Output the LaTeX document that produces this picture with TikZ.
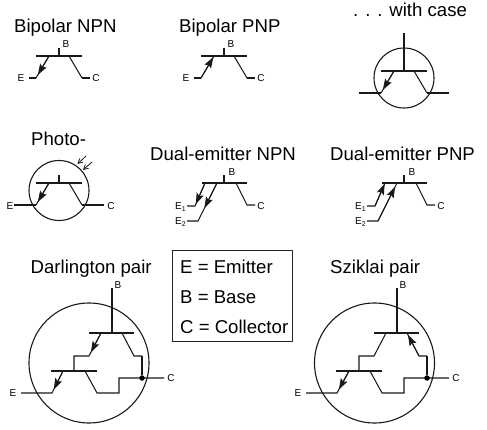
\documentclass[tikz,border=0pt]{standalone}
\usepackage{fontspec}
\setmainfont{Liberation Sans}
\usetikzlibrary{arrows.meta,calc}
\tikzset{
  wire/.style={line width=1.05pt,line cap=butt,line join=miter,black!90},
  solidtip/.style={wire,-{Stealth[length=11pt,width=7.5pt,inset=2pt]}},
  lightwire/.style={line width=0.8pt,black!90,-{Straight Barb[length=4.5pt,width=5pt]}},
  case/.style={circle,draw,line width=1.1pt,black!90,minimum size=60pt,inner sep=0pt},
  bigcase/.style={case,minimum size=120pt},
  title/.style={anchor=base west,inner sep=0pt,font=\fontsize{18.6}{20}\selectfont},
  pin/.style={inner sep=0pt,font=\fontsize{10}{11}\selectfont},
  legend/.style={anchor=west,inner sep=0pt,font=\fontsize{18.6}{20}\selectfont},
  legendbox/.style={draw,line width=1pt,black!85,inner sep=0pt},
  junction/.style={circle,fill=black,inner sep=0pt,minimum size=5.5pt}
}
% transistor skeleton: name, centre x, bar y
\newcommand{\qbar}[3]{%
  \coordinate (#1bl) at (#2-23,#3);
  \coordinate (#1br) at (#2+23,#3);
  \coordinate (#1bc) at (#2,#3);
  \coordinate (#1et) at (#2-10,#3);
  \coordinate (#1ef) at (#2-23,#3+22);
  \coordinate (#1ct) at (#2+10,#3);
  \coordinate (#1cf) at (#2+23,#3+22);
  \draw[wire] (#1bl) -- (#1br);
  \draw[wire] (#1et) -- (#1ef);
  \draw[wire] (#1ct) -- (#1cf);
}
\newcommand{\tipdown}[3][0.86]{\draw[solidtip] (#2) -- ($(#2)!#1!(#3)$);}
\newcommand{\subnum}[1]{\raisebox{-2.2pt}{\fontsize{7}{8}\selectfont #1}}
\begin{document}
\begin{tikzpicture}[x=1pt,y=-1pt]
\useasboundingbox (0,0) rectangle (487,430);

% titles
\node[title] (t1) at (14,33) {Bipolar NPN};
\node[title] (t2) at (179,33) {Bipolar PNP};
\node[title] (t3) at (353,17) {. . . with case};
\node[title] (t4) at (31,146) {Photo-};
\node[title] (t5) at (150,161) {Dual-emitter NPN};
\node[title] (t6) at (330,161) {Dual-emitter PNP};
\node[title] (t7) at (30.5,273) {Darlington pair};
\node[title] (t8) at (330,273) {Sziklai pair};

% Bipolar NPN
\qbar{a}{59}{56}
\coordinate (abt) at (59,48);
\coordinate (aes) at (29,78);
\coordinate (acs) at (90,78);
\draw[wire] (abt) -- (abc);
\draw[wire] (aef) -- (aes);
\draw[wire] (acf) -- (acs);
\tipdown{aet}{aef}
\node[pin] (aB) at (66,44) {B};
\node[pin] (aE) at (21,78.5) {E};
\node[pin] (aC) at (96,78.5) {C};

% Bipolar PNP
\qbar{b}{224}{56}
\coordinate (bbt) at (224,48);
\coordinate (bes) at (194,78);
\coordinate (bcs) at (255,78);
\draw[wire] (bbt) -- (bbc);
\draw[wire] (bef) -- (bes);
\draw[wire] (bcf) -- (bcs);
\tipdown[0.95]{bef}{bet}
\node[pin] (bB) at (231,44) {B};
\node[pin] (bE) at (186,78.5) {E};
\node[pin] (bC) at (261,78.5) {C};

% With case
\node[case] (ccase) at (404,78) {};
\qbar{c}{404}{71}
\coordinate (cbt) at (404,33);
\coordinate (ces) at (359,93);
\coordinate (ccs) at (449,93);
\draw[wire] (cbt) -- (cbc);
\draw[wire] (cef) -- (ces);
\draw[wire] (ccf) -- (ccs);
\tipdown{cet}{cef}

% Photo
\node[case] (dcase) at (59,190.5) {};
\qbar{d}{59}{183}
\coordinate (dbt) at (59,175);
\coordinate (des) at (14,205);
\coordinate (dcs) at (104,205);
\draw[wire] (dbt) -- (dbc);
\draw[wire] (def) -- (des);
\draw[wire] (dcf) -- (dcs);
\tipdown{det}{def}
\node[pin] (dE) at (10,206) {E};
\node[pin] (dC) at (111,206) {C};
\coordinate (dl1a) at (86,156);
\coordinate (dl1b) at (77.5,164);
\coordinate (dl2a) at (92,162);
\coordinate (dl2b) at (83,170);
\draw[lightwire] (dl1a) -- (dl1b);
\draw[lightwire] (dl2a) -- (dl2b);

% Dual-emitter NPN
\coordinate (ebl) at (202,183);
\coordinate (ebr) at (247,183);
\coordinate (ebc) at (224,183);
\coordinate (ebt) at (224,175);
\coordinate (e1t) at (205,183);
\coordinate (e1f) at (195,206);
\coordinate (e1s) at (187,206);
\coordinate (e2t) at (217,183);
\coordinate (e2f) at (198,221);
\coordinate (e2s) at (187,221);
\coordinate (ect) at (236,183);
\coordinate (ecf) at (247,205);
\coordinate (ecs) at (255,205);
\draw[wire] (ebl) -- (ebr);
\draw[wire] (ebt) -- (ebc);
\draw[wire] (e1t) -- (e1f) -- (e1s);
\draw[wire] (e2t) -- (e2f) -- (e2s);
\draw[wire] (ect) -- (ecf) -- (ecs);
\tipdown[0.92]{e1t}{e1f}
\tipdown[0.66]{e2t}{e2f}
\node[pin] (eB) at (232,172) {B};
\node[pin] (eC) at (261,206) {C};
\node[pin] (eE1) at (180.5,207) {E\subnum{1}};
\node[pin] (eE2) at (180.5,222) {E\subnum{2}};

% Dual-emitter PNP
\coordinate (fbl) at (382,183);
\coordinate (fbr) at (427,183);
\coordinate (fbc) at (404,183);
\coordinate (fbt) at (404,175);
\coordinate (f1t) at (385,183);
\coordinate (f1f) at (375,206);
\coordinate (f1s) at (367,206);
\coordinate (f2t) at (397,183);
\coordinate (f2f) at (378,221);
\coordinate (f2s) at (367,221);
\coordinate (fct) at (416,183);
\coordinate (fcf) at (427,205);
\coordinate (fcs) at (435,205);
\draw[wire] (fbl) -- (fbr);
\draw[wire] (fbt) -- (fbc);
\draw[wire] (f1t) -- (f1f) -- (f1s);
\draw[wire] (f2t) -- (f2f) -- (f2s);
\draw[wire] (fct) -- (fcf) -- (fcs);
\tipdown[0.97]{f1f}{f1t}
\tipdown[0.9]{f2f}{f2t}
\node[pin] (fB) at (412,172) {B};
\node[pin] (fC) at (441,206) {C};
\node[pin] (fE1) at (360.5,207) {E\subnum{1}};
\node[pin] (fE2) at (360.5,222) {E\subnum{2}};

% Legend
\node[legendbox,minimum width=120pt,minimum height=90pt] (lbox) at (232,296) {};
\node[legend] (l1) at (180,267) {E = Emitter};
\node[legend] (l2) at (180,297) {B = Base};
\node[legend] (l3) at (180,327) {C = Collector};

% Darlington
\node[bigcase] (gcase) at (89,363) {};
\coordinate (gbt) at (112,288);
\coordinate (gbc) at (112,333);
\coordinate (gbl) at (89,333);
\coordinate (gbr) at (134,333);
\coordinate (get) at (101,333);
\coordinate (gef) at (89,356);
\coordinate (ge2) at (74,356);
\coordinate (glc) at (74,371);
\coordinate (gll) at (51,371);
\coordinate (glr) at (97,371);
\coordinate (glet) at (63,371);
\coordinate (glef) at (52,393);
\coordinate (gles) at (21,393);
\coordinate (glct) at (85,371);
\coordinate (glcf) at (97,393);
\coordinate (gs1) at (119,393);
\coordinate (gs2) at (119,378);
\coordinate (gout) at (164,378);
\coordinate (gct) at (122,333);
\coordinate (gcf) at (134,356);
\coordinate (gc2) at (142,356);
\draw[wire] (gbt) -- (gbc);
\draw[wire] (gbl) -- (gbr);
\draw[wire] (get) -- (gef) -- (ge2) -- (glc);
\draw[wire] (gll) -- (glr);
\draw[wire] (glet) -- (glef) -- (gles);
\draw[wire] (glct) -- (glcf) -- (gs1) -- (gs2) -- (gout);
\draw[wire] (gct) -- (gcf) -- (gc2);
\node[junction] (gdot) at (142,378) {};
\draw[wire] (gc2) -- (gdot);
\tipdown[0.84]{get}{gef}
\tipdown[0.84]{glet}{glef}
\node[pin] (gB) at (118,285) {B};
\node[pin] (gC) at (171,378.5) {C};
\node[pin] (gE) at (13,393.5) {E};

% Sziklai
\node[bigcase] (hcase) at (374.5,363) {};
\coordinate (hbt) at (397,288);
\coordinate (hbc) at (397,333);
\coordinate (hbl) at (374,333);
\coordinate (hbr) at (419,333);
\coordinate (hct) at (386,333);
\coordinate (hcf) at (374,356);
\coordinate (hc2) at (359,356);
\coordinate (hlc) at (359,371);
\coordinate (hll) at (336,371);
\coordinate (hlr) at (382,371);
\coordinate (hlet) at (349,371);
\coordinate (hlef) at (337,393);
\coordinate (hles) at (306,393);
\coordinate (hlct) at (370,371);
\coordinate (hlcf) at (382,393);
\coordinate (hs1) at (404,393);
\coordinate (hs2) at (404,378);
\coordinate (hout) at (449,378);
\coordinate (het) at (407,333);
\coordinate (hef) at (419,356);
\coordinate (he2) at (427,356);
\draw[wire] (hbt) -- (hbc);
\draw[wire] (hbl) -- (hbr);
\draw[wire] (hct) -- (hcf) -- (hc2) -- (hlc);
\draw[wire] (hll) -- (hlr);
\draw[wire] (hlet) -- (hlef) -- (hles);
\draw[wire] (hlct) -- (hlcf) -- (hs1) -- (hs2) -- (hout);
\draw[wire] (het) -- (hef) -- (he2);
\node[junction] (hdot) at (427,378) {};
\draw[wire] (he2) -- (hdot);
\tipdown[0.92]{hef}{het}
\tipdown[0.84]{hlet}{hlef}
\node[pin] (hB) at (403,285) {B};
\node[pin] (hC) at (456,378.5) {C};
\node[pin] (hE) at (298,393.5) {E};
\end{tikzpicture}
\end{document}
